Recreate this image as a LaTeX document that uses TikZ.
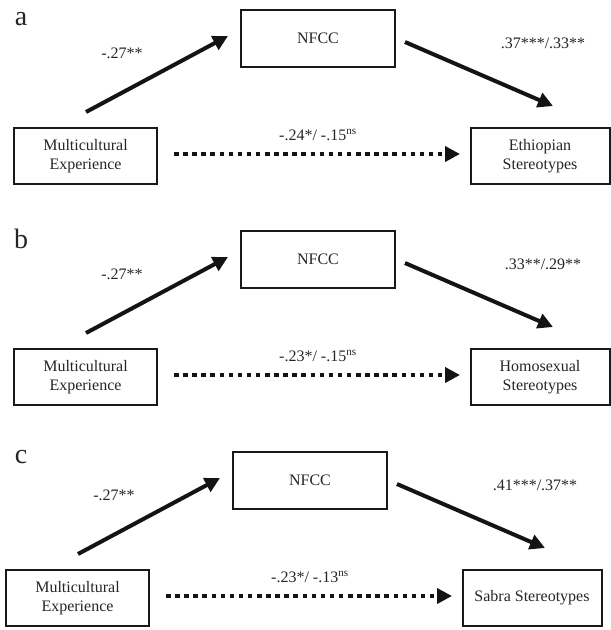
\documentclass[tikz,border=0pt]{standalone}
\usepackage{fontspec}
\setmainfont{Liberation Serif}
\usetikzlibrary{arrows.meta}
\tikzset{
  box/.style={draw=black!90, line width=2pt, minimum width=143pt, minimum height=56pt, inner sep=0pt, align=center, font=\fontsize{16}{19}\selectfont, text=black!85},
  lab/.style={font=\fontsize{16}{19}\selectfont, text=black!85, inner sep=0pt},
  panlab/.style={font=\fontsize{28}{30}\selectfont, text=black!85, inner sep=0pt},
  pathline/.style={line width=4pt, draw=black!92, -{Triangle[length=15pt,width=15pt]}},
  dotline/.style={line width=4pt, draw=black!92, dash pattern=on 4.5pt off 4.6pt, -{Triangle[length=15pt,width=15pt]}}
}
\newcommand\mypanel[5]{%
  \node[box] (me#1) at (85.5,156) {Multicultural\\Experience};
  \node[box, minimum width=154pt, minimum height=57pt] (nf#1) at (318,38.5) {NFCC};
  \node[box, minimum width=139pt] (st#1) at (540,156) {#2};
  \coordinate (sa#1) at (86,112); \coordinate (ea#1) at (228,36);
  \coordinate (sb#1) at (405,42); \coordinate (eb#1) at (553,106);
  \coordinate (sc#1) at (174,154); \coordinate (ec#1) at (460,154);
  \draw[pathline] (sa#1) -- (ea#1);
  \draw[pathline] (sb#1) -- (eb#1);
  \draw[dotline] (sc#1) -- (ec#1);
  \node[lab] (la#1) at (122,53) {#3};
  \node[lab] (lb#1) at (543,43) {#4};
  \node[lab] (lc#1) at (318,135) {#5};
}
\begin{document}
\begin{tikzpicture}[x=1pt,y=-1pt]
\clip (0,0) rectangle (611,630);
\fill[white] (0,0) rectangle (611,630);
\node[panlab] (pa) at (21,19) {a};
\node[panlab] (pb) at (21,239) {b};
\node[panlab] (pc) at (21,457) {c};
\begin{scope}
\mypanel{A}{Ethiopian\\Stereotypes}{-.27**}{.37***/.33**}{-.24*/ -.15\textsuperscript{ns}}
\end{scope}
\begin{scope}[shift={(0,221)}]
\mypanel{B}{Homosexual\\Stereotypes}{-.27**}{.33**/.29**}{-.23*/ -.15\textsuperscript{ns}}
\end{scope}
\begin{scope}[shift={(-8,442)}]
\mypanel{C}{Sabra Stereotypes}{-.27**}{.41***/.37**}{-.23*/ -.13\textsuperscript{ns}}
\end{scope}
\end{tikzpicture}
\end{document}
